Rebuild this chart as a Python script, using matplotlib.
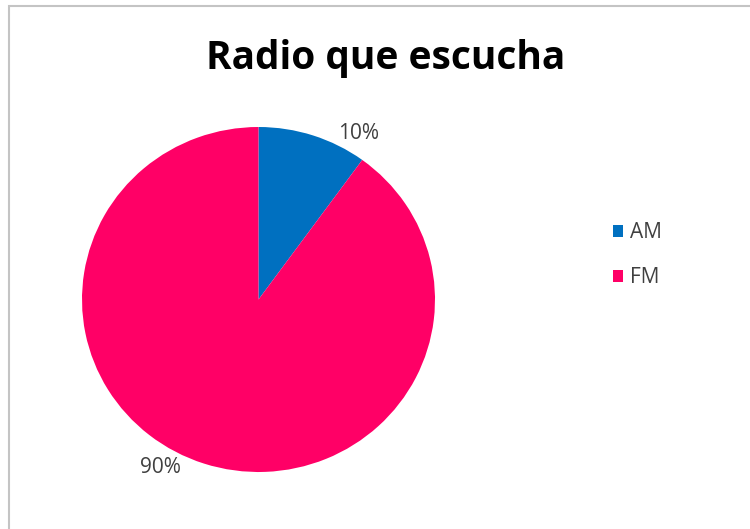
import matplotlib
matplotlib.use("Agg")
import matplotlib.pyplot as plt
from matplotlib.patches import Rectangle

title = "Radio que escucha"
categories = ["AM", "FM"]
shares = [10, 90]
colors = ["#0070C0", "#FF0066"]

plt.rcParams["font.family"] = ["Open Sans", "DejaVu Sans"]

W, H = 750, 529
fig = plt.figure(figsize=(W / 100, H / 100), dpi=100)
fig.patch.set_facecolor("white")

# chart frame (top and left edges visible)
fig.add_artist(Rectangle((9 / W, -0.1), 1.0, 1 - 6 / H + 0.1, transform=fig.transFigure,
                         fill=False, edgecolor="#c4c4c4", linewidth=1.5))

cx, cy, rx, ry = 258.5, 299.5, 176.5, 172.5
ax = fig.add_axes([(cx - rx) / W, 1 - (cy + ry) / H, 2 * rx / W, 2 * ry / H])
wedges, _ = ax.pie(shares, colors=colors, startangle=90, counterclock=False,
                   radius=1.0, wedgeprops=dict(linewidth=0))
ax.set_xlim(-1, 1)
ax.set_ylim(-1, 1)
ax.set_aspect("auto")
ax.axis("off")

# data labels, placed just outside the slices
label_pos = [(0.565, 0.965), (-0.555, -0.975)]
for (x, y), v in zip(label_pos, shares):
    ax.text(x, y, f"{v}%", ha="center", va="center", fontsize=15, color="#404040")

fig.text(386 / W, 1 - 59 / H, title, ha="center", va="center",
         fontsize=28, fontweight="bold", color="black")

handles = [Rectangle((0, 0), 1, 1, facecolor=c, edgecolor="none") for c in colors]
fig.legend(handles, categories, loc="center left", bbox_to_anchor=(594 / W, 1 - 255 / H),
           frameon=False, fontsize=15, handlelength=0.5, handleheight=0.5,
           handletextpad=0.35, labelspacing=1.15, labelcolor="#404040")

fig.savefig("out.png", dpi=100, facecolor="white")
